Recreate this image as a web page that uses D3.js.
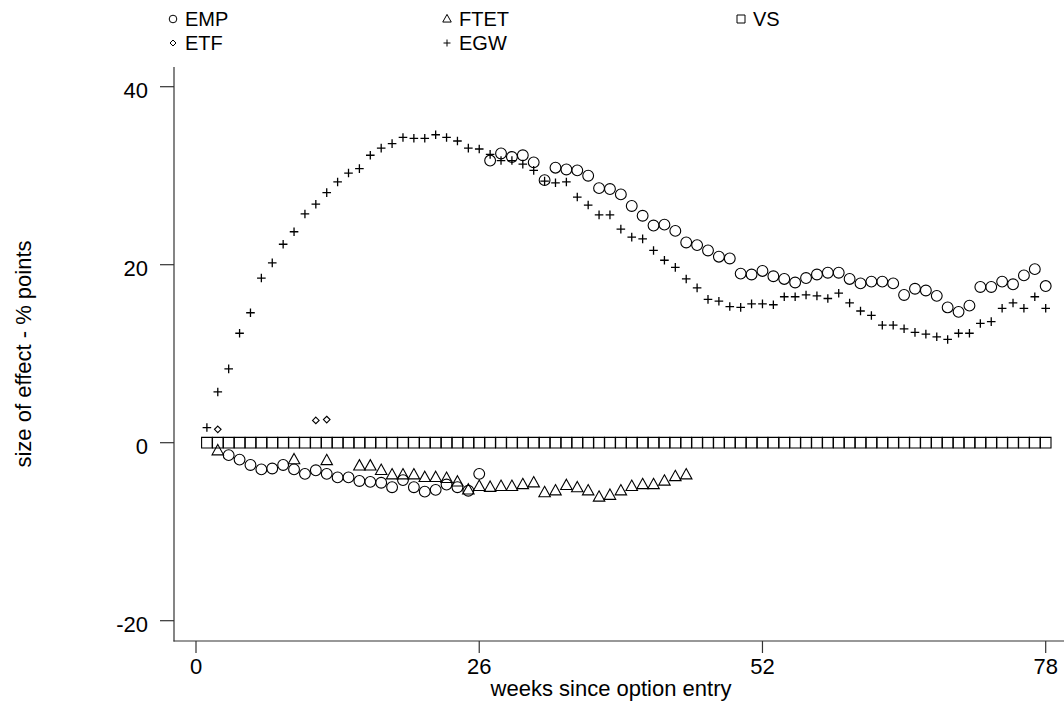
<!DOCTYPE html>
<html>
<head>
<meta charset="utf-8">
<script src="https://cdn.jsdelivr.net/npm/d3@7"></script>
<style>
  body { margin: 0; background: #fff; }
  text { font-family: "Liberation Sans", Arial, sans-serif; fill: #000; }
</style>
</head>
<body>
<div id="chart"></div>
<script>
'use strict';

const width = 1064;
const height = 703;

// ticks
const xTicks = [0, 26, 52, 78];
const yTicks = [-20, 0, 20, 40];

// EMP (circles), weeks 3..78
const empWeeks = d3.range(3, 79);
const empValues = [
  -1.4, -1.9, -2.5, -3.0, -2.9, -2.5, -3.0, -3.5, -3.1, -3.5,
  -3.9, -3.9, -4.3, -4.4, -4.5, -5.0, -4.2, -5.0, -5.5, -5.3,
  -4.7, -5.0, -5.4, -3.5, 31.7, 32.5, 32.1, 32.3, 31.5, 29.5,
  30.9, 30.7, 30.6, 30.0, 28.6, 28.5, 27.9, 26.6, 25.5, 24.4,
  24.5, 23.8, 22.5, 22.2, 21.6, 20.9, 20.7, 19.0, 18.9, 19.3,
  18.7, 18.4, 18.0, 18.5, 18.9, 19.1, 19.1, 18.4, 17.9, 18.1,
  18.1, 17.9, 16.6, 17.3, 17.1, 16.5, 15.2, 14.7, 15.4, 17.5,
  17.5, 18.1, 17.8, 18.8, 19.5, 17.6
];

// FTET (triangles)
const ftetWeeks = [2, 9, 12, 15, 16, 17, 18, 19, 20, 21, 22, 23, 24, 25, 26, 27, 28, 29, 30,
  31, 32, 33, 34, 35, 36, 37, 38, 39, 40, 41, 42, 43, 44, 45];
const ftetValues = [-0.9, -1.9, -2.0, -2.6, -2.6, -3.1, -3.6, -3.6, -3.6, -3.9, -3.9, -4.0, -4.4, -5.3,
  -4.9, -5.0, -4.9, -4.9, -4.7, -4.5, -5.6, -5.4, -4.8, -5.05, -5.4, -6.1, -5.9, -5.4, -4.9,
  -4.7, -4.7, -4.3, -3.8, -3.6];

// VS (squares), weeks 1..78
const vsWeeks = d3.range(1, 79);
const vsValues = [
  0, 0, 0, 0, 0, 0, 0, 0, 0, 0, 0, 0, 0, 0, 0, 0, 0, 0, 0, 0,
  0, 0, 0, 0, 0, 0, 0, 0, 0, 0, 0, 0, 0, 0, 0, 0, 0, 0, 0, 0,
  0, 0, 0, 0, 0, 0, 0, 0, 0, 0, 0, 0, 0, 0, 0, 0, 0, 0, 0, 0,
  0, 0, 0, 0, 0, 0, 0, 0, 0, 0, 0, 0, 0, 0, 0, 0, 0, 0
];

// ETF (diamonds)
const etfWeeks = [2, 11, 12];
const etfValues = [1.5, 2.5, 2.6];

// EGW (plus), weeks 1..78
const egwWeeks = d3.range(1, 79);
const egwValues = [
  1.7, 5.7, 8.3, 12.3, 14.6, 18.5, 20.2, 22.3, 23.7, 25.7,
  26.8, 28.1, 29.3, 30.3, 30.8, 32.3, 33.1, 33.6, 34.3, 34.2,
  34.2, 34.6, 34.3, 33.9, 33.1, 33.0, 32.4, 31.7, 31.7, 31.3,
  30.6, 29.4, 29.2, 29.3, 27.6, 26.7, 25.6, 25.6, 24.0, 23.1,
  22.9, 21.6, 20.5, 19.7, 18.4, 17.4, 16.1, 15.9, 15.3, 15.2,
  15.6, 15.6, 15.5, 16.4, 16.4, 16.6, 16.5, 16.2, 16.8, 15.7,
  14.8, 14.3, 13.2, 13.2, 12.8, 12.4, 12.2, 11.9, 11.6, 12.3,
  12.3, 13.4, 13.6, 15.1, 15.7, 15.1, 16.4, 15.1
];

const svg = d3.select("#chart").append("svg")
  .attr("width", width)
  .attr("height", height);

const x = d3.scaleLinear().domain([0, 78]).range([196, 1045.7]);
const y = d3.scaleLinear().domain([-20, 40]).range([620.7, 86.7]);

// marker shapes (path strings centred on 0,0)
function circlePath(r) {
  const p = d3.path();
  p.moveTo(r, 0);
  p.arc(0, 0, r, 0, 2 * Math.PI);
  return p.toString();
}
function trianglePath(s) {
  const h = s * 0.9;
  return `M0,${-h * 0.6}L${s / 2},${h * 0.4}L${-s / 2},${h * 0.4}Z`;
}
function squarePath(s) {
  return `M${-s / 2},${-s / 2}h${s}v${s}h${-s}Z`;
}
function diamondPath(s) {
  return `M0,${-s}L${s},0L0,${s}L${-s},0Z`;
}
function plusPath(s) {
  return `M${-s},0H${s}M0,${-s}V${s}`;
}

const series = [
  { name: "VS", weeks: vsWeeks, values: vsValues, shape: squarePath(10.6), legend: squarePath(8) },
  { name: "EMP", weeks: empWeeks, values: empValues, shape: circlePath(5.4), legend: circlePath(3.8) },
  { name: "FTET", weeks: ftetWeeks, values: ftetValues, shape: trianglePath(11.5), legend: trianglePath(8.5) },
  { name: "ETF", weeks: etfWeeks, values: etfValues, shape: diamondPath(3.3), legend: diamondPath(3) },
  { name: "EGW", weeks: egwWeeks, values: egwValues, shape: plusPath(4.3), legend: plusPath(3.5) }
];

// axes lines
const axisColor = "#333";
svg.append("line")
  .attr("x1", 174).attr("x2", 174)
  .attr("y1", 67).attr("y2", 641.5)
  .attr("stroke", axisColor).attr("stroke-width", 1.2);
svg.append("line")
  .attr("x1", 173.5).attr("x2", 1064)
  .attr("y1", 641).attr("y2", 641)
  .attr("stroke", axisColor).attr("stroke-width", 1.2);

// y ticks
const yg = svg.append("g");
yTicks.forEach(t => {
  yg.append("line")
    .attr("x1", 160).attr("x2", 174)
    .attr("y1", y(t)).attr("y2", y(t))
    .attr("stroke", axisColor).attr("stroke-width", 1.2);
  yg.append("text")
    .attr("x", 148)
    .attr("y", y(t) + 11.5)
    .attr("text-anchor", "end")
    .attr("font-size", 22)
    .text(t);
});

// x ticks
const xg = svg.append("g");
xTicks.forEach(t => {
  xg.append("line")
    .attr("x1", x(t)).attr("x2", x(t))
    .attr("y1", 641).attr("y2", 653)
    .attr("stroke", axisColor).attr("stroke-width", 1.2);
  xg.append("text")
    .attr("x", x(t))
    .attr("y", 673.5)
    .attr("text-anchor", "middle")
    .attr("font-size", 22)
    .text(t);
});

// titles
svg.append("text")
  .attr("x", 611)
  .attr("y", 696)
  .attr("text-anchor", "middle")
  .attr("font-size", 22)
  .text("weeks since option entry");
svg.append("text")
  .attr("transform", "translate(31,354) rotate(-90)")
  .attr("text-anchor", "middle")
  .attr("font-size", 22)
  .text("size of effect - % points");

// points
series.forEach(s => {
  const pts = d3.zip(s.weeks, s.values);
  svg.append("g").selectAll("path")
    .data(pts)
    .join("path")
    .attr("transform", d => `translate(${x(d[0])},${y(d[1])})`)
    .attr("d", s.shape)
    .attr("fill", "none")
    .attr("stroke", "#000")
    .attr("stroke-width", s.name === "EGW" ? 1.3 : 1.1);
});

// legend
const legendPos = {
  EMP: [173, 19], FTET: [447, 19], VS: [741, 19],
  ETF: [173, 43], EGW: [447, 43]
};
series.forEach(s => {
  const [lx, ly] = legendPos[s.name];
  svg.append("path")
    .attr("transform", `translate(${lx},${ly})`)
    .attr("d", s.legend)
    .attr("fill", "none")
    .attr("stroke", "#000")
    .attr("stroke-width", 1);
  svg.append("text")
    .attr("x", lx + 12)
    .attr("y", ly + 7)
    .attr("font-size", 20)
    .text(s.name);
});
</script>
</body>
</html>
